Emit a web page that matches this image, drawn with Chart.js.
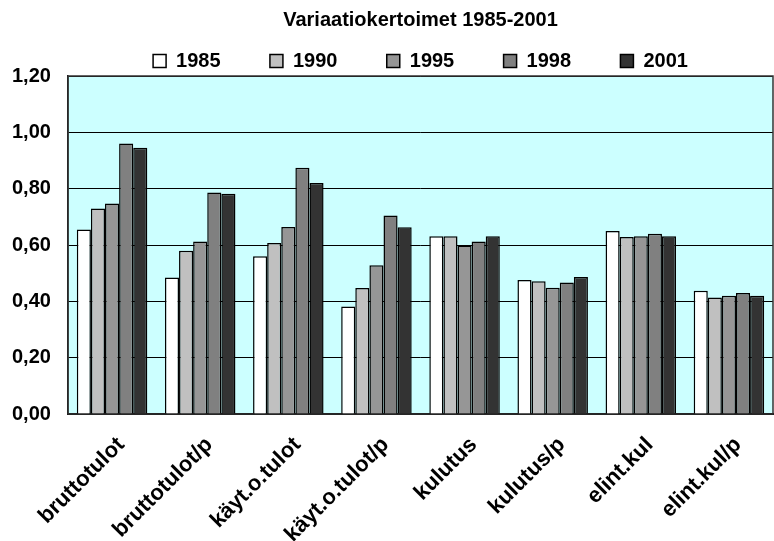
<!DOCTYPE html>
<html>
<head>
<meta charset="utf-8">
<title>Variaatiokertoimet 1985-2001</title>
<script src="https://cdn.jsdelivr.net/npm/chart.js@4.4.0/dist/chart.umd.min.js"></script>
<style>
    html, body { margin: 0; padding: 0; background: #ffffff; }
    #wrap { width: 774px; height: 541px; position: relative; }
</style>
</head>
<body>
<div id="wrap"><canvas id="myBarChart"></canvas></div>
<script>
// data
const categories = ['bruttotulot', 'bruttotulot/p', 'käyt.o.tulot', 'käyt.o.tulot/p', 'kulutus', 'kulutus/p', 'elint.kul', 'elint.kul/p'];
const years = ['1985', '1990', '1995', '1998', '2001'];
const v1985 = [0.655, 0.485, 0.560, 0.382, 0.631, 0.476, 0.650, 0.438];
const v1990 = [0.730, 0.580, 0.607, 0.447, 0.631, 0.471, 0.628, 0.414];
const v1995 = [0.747, 0.612, 0.664, 0.528, 0.598, 0.448, 0.631, 0.420];
const v1998 = [0.960, 0.786, 0.874, 0.705, 0.612, 0.467, 0.640, 0.430];
const v2001 = [0.945, 0.782, 0.820, 0.663, 0.631, 0.486, 0.631, 0.420];
const yTicks = [0, 0.2, 0.4, 0.6, 0.8, 1.0, 1.2];

const colors = ['#ffffff', '#c0c0c0', '#969696', '#808080', '#333333'];
const series = [v1985, v1990, v1995, v1998, v2001];
const FONT = '"Liberation Sans", Arial, sans-serif';

// cyan plot area with a dark frame
const plotArea = {
    id: 'plotArea',
    beforeDraw(chart) {
        const { ctx, chartArea: a } = chart;
        ctx.save();
        ctx.fillStyle = '#ccffff';
        ctx.fillRect(a.left, a.top, a.width, a.height);
        ctx.restore();
    },
    beforeDatasetsDraw(chart) {
        const { ctx, chartArea: a } = chart;
        ctx.save();
        ctx.strokeStyle = '#333333';
        ctx.lineWidth = 1.5;
        ctx.strokeRect(a.left, a.top, a.width, a.height);
        ctx.restore();
    }
};

const datasets = years.map((y, i) => ({
    label: y,
    data: series[i],
    backgroundColor: colors[i],
    borderColor: '#000000',
    borderWidth: 1.5,
    categoryPercentage: 0.8,
    barPercentage: 1.0
}));

const config = {
    type: 'bar',
    data: { labels: categories, datasets: datasets },
    plugins: [plotArea],
    options: {
        responsive: true,
        maintainAspectRatio: false,
        animation: false,
        layout: { padding: { left: 68, right: 1, top: 0, bottom: 0 } },
        plugins: {
            title: {
                display: true,
                text: 'Variaatiokertoimet 1985-2001',
                color: '#000',
                font: { family: FONT, size: 20, weight: 'bold' },
                padding: { top: 8, bottom: 3 }
            },
            legend: {
                display: true,
                maxHeight: 41,
                labels: {
                    color: '#000',
                    font: { family: FONT, size: 20, weight: 'bold' },
                    boxWidth: 13,
                    boxHeight: 13,
                    padding: 16,
                    // spread the items out like the original
                    generateLabels(chart) {
                        const items = Chart.defaults.plugins.legend.labels.generateLabels(chart);
                        items.forEach((it, i) => {
                            if (i < items.length - 1) it.text = it.text + '      ';
                        });
                        return items;
                    }
                }
            },
            tooltip: { enabled: false }
        },
        scales: {
            x: {
                grid: { display: false },
                border: { display: true, color: '#000', width: 2 },
                ticks: {
                    color: '#000',
                    font: { family: FONT, size: 22, weight: 'bold' },
                    autoSkip: false,
                    maxRotation: 45,
                    minRotation: 45,
                    padding: 10,
                    labelOffset: 9
                },
                afterFit(scale) { scale.height = 127; }
            },
            y: {
                min: 0,
                max: 1.2,
                afterBuildTicks(scale) { scale.ticks = yTicks.map(v => ({ value: v })); },
                grid: { color: '#000', lineWidth: 1, drawTicks: false },
                border: { display: true, color: '#000', width: 1.5 },
                ticks: {
                    color: '#000',
                    font: { family: FONT, size: 20, weight: 'bold' },
                    // labels sit in the left padding, so mirror them out of the axis box
                    mirror: true,
                    padding: -56,
                    callback: v => v.toFixed(2).replace('.', ',')
                },
                afterFit(scale) { scale.width = 0; }
            }
        }
    }
};

const BarChart = new Chart(document.querySelector('#myBarChart'), config);
</script>
</body>
</html>
